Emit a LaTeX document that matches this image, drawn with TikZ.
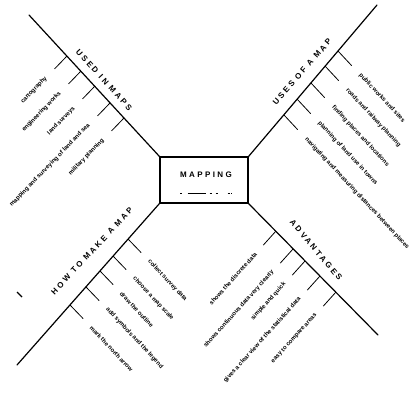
\documentclass[tikz,border=0pt]{standalone}
\usepackage{fontspec}
\setmainfont{Liberation Sans}
\newfontfamily\hdrfont[LetterSpace=30]{Liberation Sans}
\usetikzlibrary{calc}
\tikzset{
  branch/.style={line width=1.2pt, line cap=round},
  leader/.style={line width=0.8pt},
  item/.style={font=\fontsize{6}{7}\selectfont\bfseries, inner sep=0pt},
  hdr/.style={font=\hdrfont\fontsize{8}{9}\selectfont\bfseries, inner sep=0pt},
  centrebox/.style={draw, line width=1.3pt, minimum width=88pt, minimum height=46pt, inner sep=0pt},
}
\begin{document}
\begin{tikzpicture}[x=1pt,y=1pt]
\useasboundingbox (0,0) rectangle (410,-402);
% centre
\node[centrebox] (box) at (204,-180) {};
\node[hdr] (maptext) at (206,-175) {MAPPING};
\coordinate (ulA) at (180,-193);
\coordinate (ulB) at (232,-193);
\draw[line width=1pt, dash pattern=on 1.5pt off 6pt on 18pt off 4pt on 2pt off 4pt on 2pt off 10pt on 2pt] (ulA) -- (ulB);
% main branches
\coordinate (ulend) at (29,-15);
\coordinate (urend) at (377,-5);
\coordinate (llend) at (17,-365);
\coordinate (lrend) at (378,-335);
\draw[branch] (box.north west) -- (ulend);
\draw[branch] (box.north east) -- (urend);
\draw[branch] (box.south west) -- (llend);
\draw[branch] (box.south east) -- (lrend);
% headers
\node[hdr, rotate=-48] (ulh) at (104,-80) {USED IN MAPS};
\node[hdr, rotate=49] (urh) at (302,-72) {USES OF A MAP};
\node[hdr, rotate=47] (llh) at (92,-251) {HOW TO MAKE A MAP};
\node[hdr, rotate=-50] (lrh) at (316,-250) {ADVANTAGES};
% upper left items
\foreach \n/\x/\y/\t in {1/67/56/cartography, 2/81/71/engineering works, 3/95/86/land surveys, 4/110/103/mapping and surveying of land and sea, 5/124/118/military planning}{
  \coordinate (ula\n) at (\x,-\y);
  \coordinate (ulb\n) at ($(ula\n)+(226:18pt)$);
  \draw[leader] (ula\n) -- (ulb\n);
  \node[item, anchor=east, rotate=46] (ult\n) at ($(ula\n)+(226:30pt)$) {\t};
}
% upper right items
\foreach \n/\x/\y/\t in {1/338/51/public works and sites, 2/325/66/roads and railway planning, 3/311/83/finding places and locations, 4/297/99/planning of land use in towns, 5/284/115/navigating and measuring distances between places}{
  \coordinate (ura\n) at (\x,-\y);
  \coordinate (urb\n) at ($(ura\n)+(-47:20pt)$);
  \draw[leader] (ura\n) -- (urb\n);
  \node[item, anchor=west, rotate=-47] (urt\n) at ($(ura\n)+(-47:32pt)$) {\t};
}
% lower left items
\foreach \n/\x/\y/\t in {1/128/239/collect survey data, 2/113/256/choose a map scale, 3/100/271/draw the outline, 4/86/287/add symbols and the legend, 5/70/305/mark the north arrow}{
  \coordinate (lla\n) at (\x,-\y);
  \coordinate (llb\n) at ($(lla\n)+(-46:19pt)$);
  \draw[leader] (lla\n) -- (llb\n);
  \node[item, anchor=west, rotate=-47] (llt\n) at ($(lla\n)+(-46:30pt)$) {\t};
}
% lower right items
\foreach \n/\x/\y/\t in {1/276/231/shows the discrete data, 2/293/249/shows continuous data very clearly, 3/305/261/simple and quick, 4/320/276/gives a clear view of the statistical data, 5/336/292/easy to compare areas}{
  \coordinate (lra\n) at (\x,-\y);
  \coordinate (lrb\n) at ($(lra\n)+(228:19pt)$);
  \draw[leader] (lra\n) -- (lrb\n);
  \node[item, anchor=east, rotate=48] (lrt\n) at ($(lra\n)+(228:30pt)$) {\t};
}
% stray mark
\draw[line width=1.2pt] (17,-292) -- (22,-297);
\end{tikzpicture}
\end{document}
